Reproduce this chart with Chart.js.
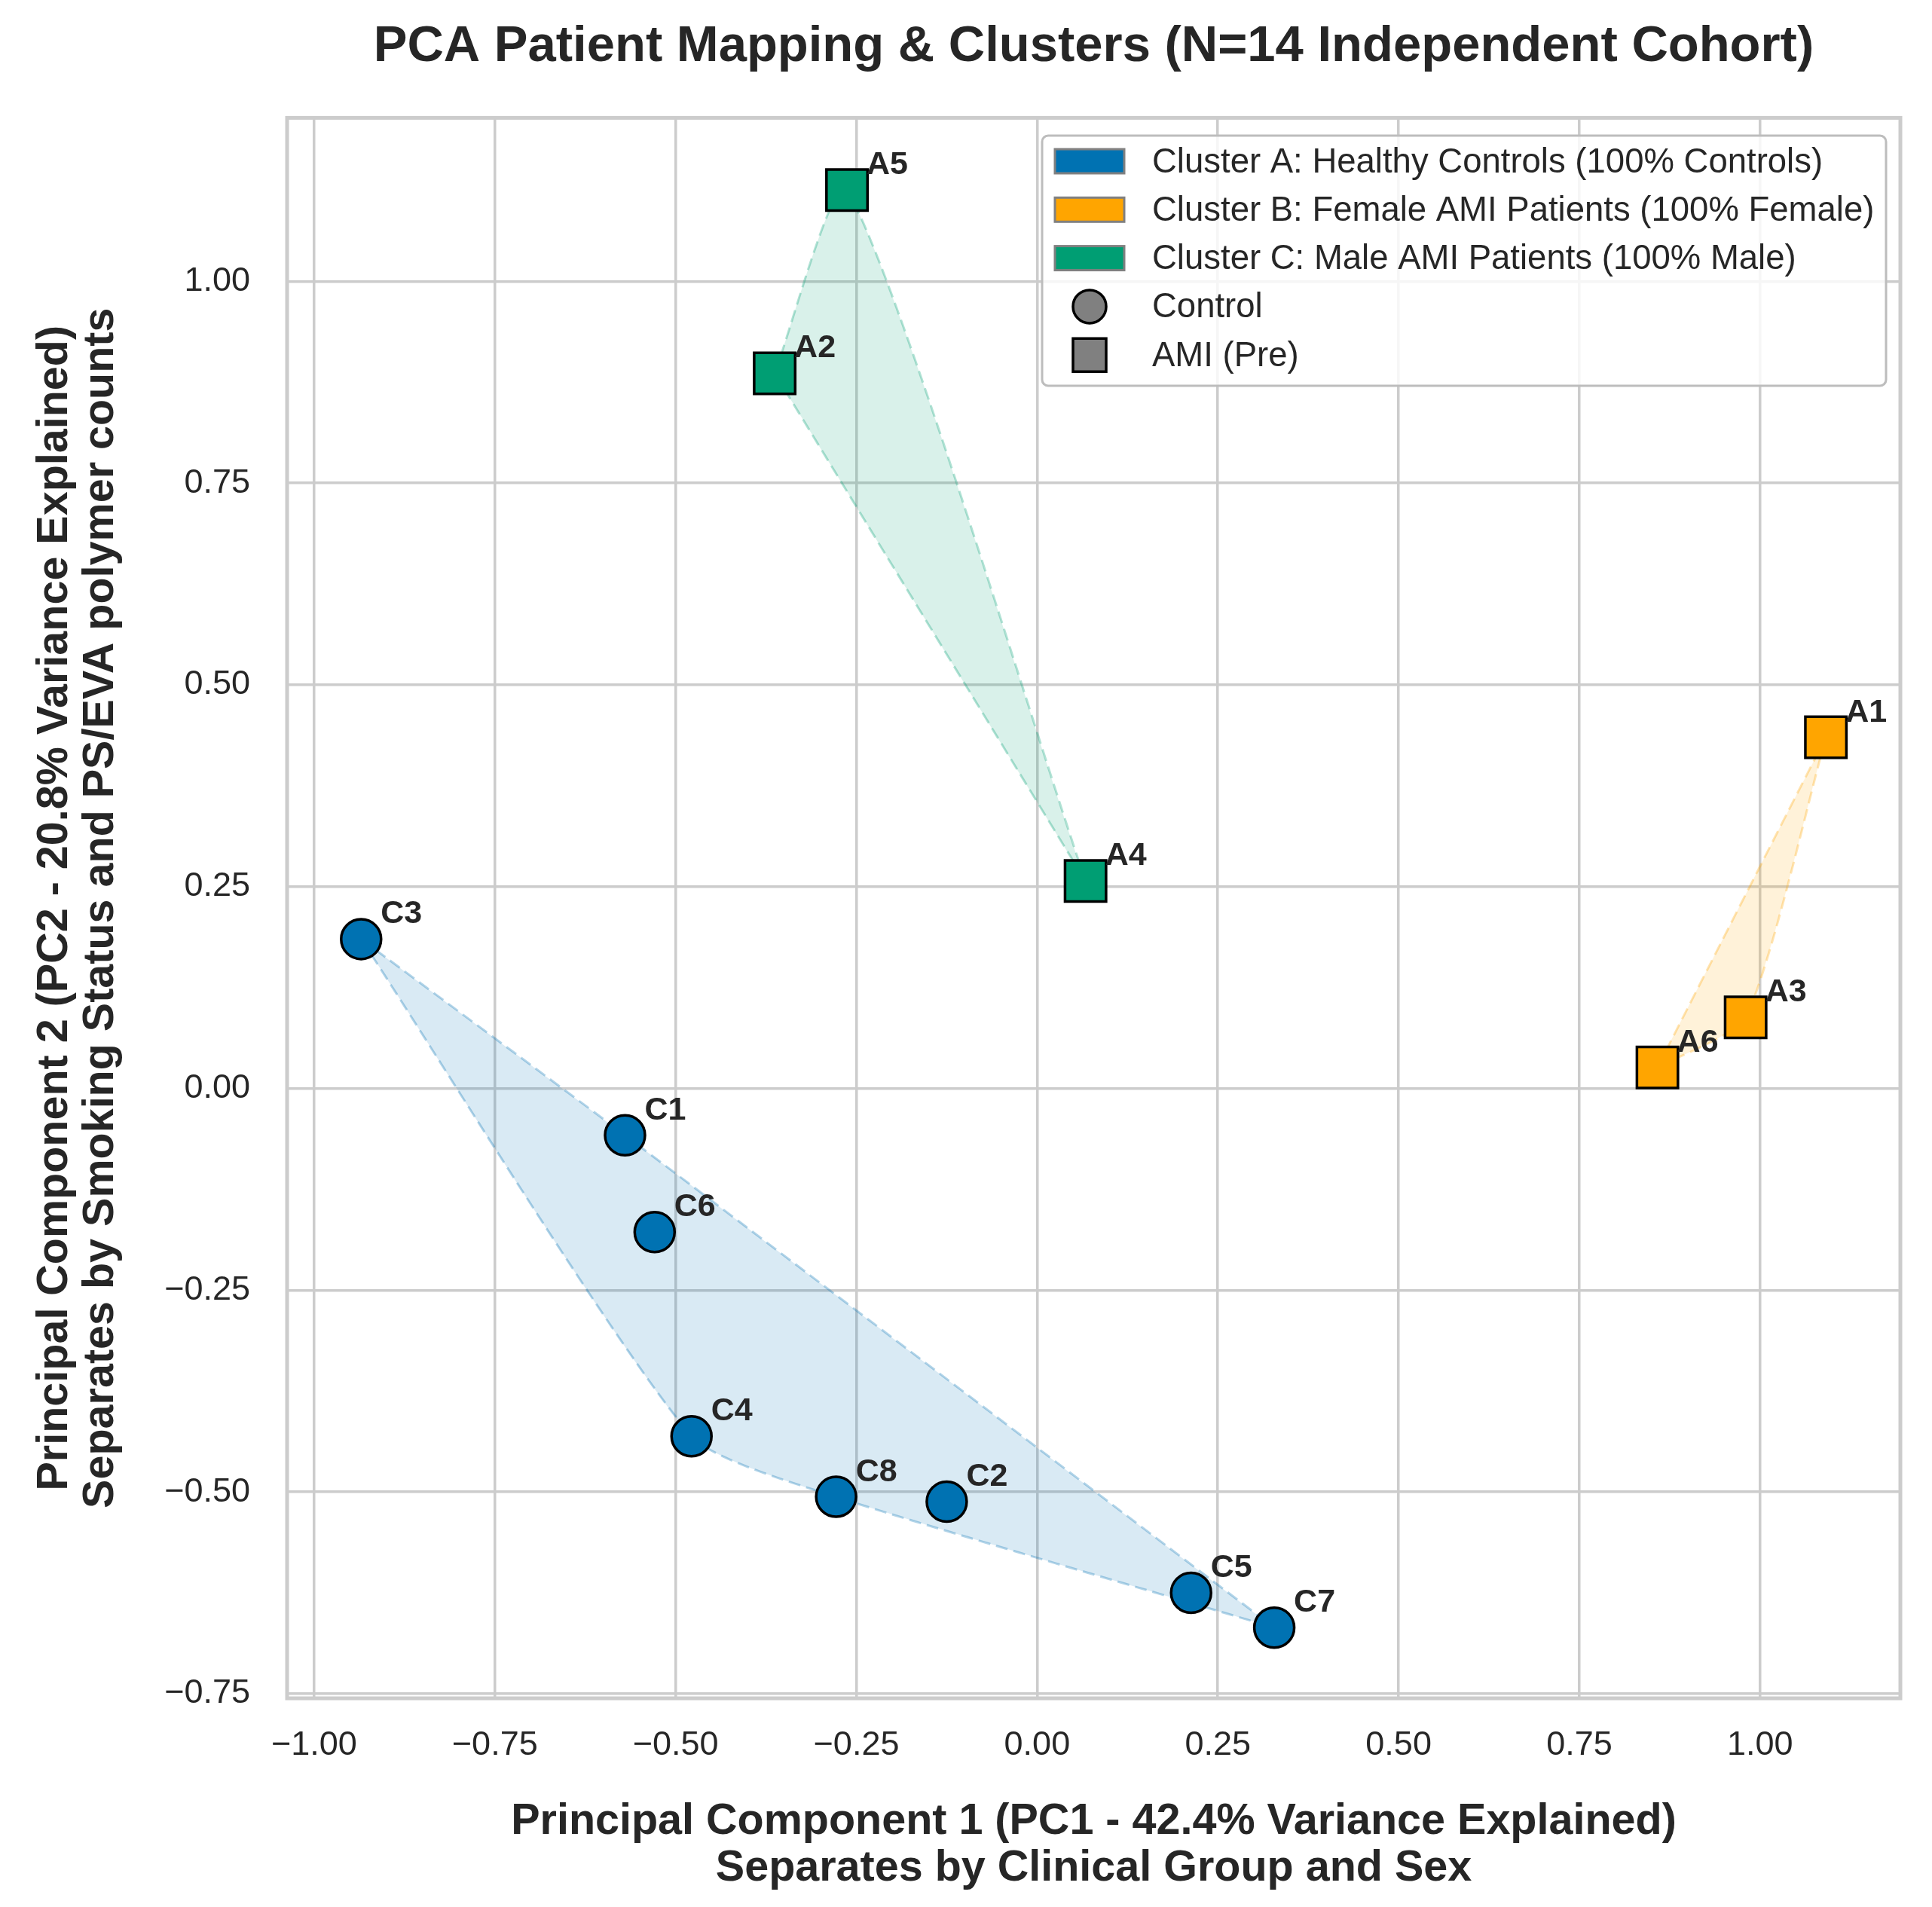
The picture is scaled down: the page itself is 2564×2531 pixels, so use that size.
<!DOCTYPE html>
<html lang="en">
<head>
<meta charset="UTF-8">
<title>PCA Patient Mapping &amp; Clusters</title>
<script src="https://cdn.jsdelivr.net/npm/chart.js"></script>
<style>
  html, body { margin: 0; padding: 0; background: #ffffff; }
  #wrap { width: 2564px; height: 2531px; }
</style>
</head>
<body>
<div id="wrap"><canvas id="pcaChart" width="2564" height="2531"></canvas></div>
<script>
// --- data ---
const patientIds = ['C1', 'C2', 'C3', 'C4', 'C5', 'C6', 'C7', 'C8', 'A1', 'A2', 'A3', 'A4', 'A5', 'A6'];
const pc1Scores = [-0.570, -0.125, -0.935, -0.478, 0.213, -0.529, 0.328, -0.278, 1.091, -0.363, 0.980, 0.067, -0.263, 0.858];
const pc2Scores = [-0.058, -0.512, 0.185, -0.431, -0.625, -0.178, -0.668, -0.506, 0.435, 0.886, 0.088, 0.257, 1.113, 0.026];
const patientCluster = ['A', 'A', 'A', 'A', 'A', 'A', 'A', 'A', 'B', 'C', 'B', 'C', 'C', 'B'];
const patientGroup = ['Control', 'Control', 'Control', 'Control', 'Control', 'Control', 'Control', 'Control',
                      'AMI (Pre)', 'AMI (Pre)', 'AMI (Pre)', 'AMI (Pre)', 'AMI (Pre)', 'AMI (Pre)'];

const clusterKeys = ['A', 'B', 'C'];
const clusterNames = ['Cluster A: Healthy Controls (100% Controls)',
                      'Cluster B: Female AMI Patients (100% Female)',
                      'Cluster C: Male AMI Patients (100% Male)'];
const groupNames = ['Control', 'AMI (Pre)'];

const xTicks = [-1.00, -0.75, -0.50, -0.25, 0.00, 0.25, 0.50, 0.75, 1.00];
const yTicks = [-0.75, -0.50, -0.25, 0.00, 0.25, 0.50, 0.75, 1.00];
const xLimits = [-1.0374, 1.194];
const yLimits = [-0.7556, 1.2025];

// --- styles ---
const clusterColors = ['#0072B2', '#FFA500', '#009E73'];
const groupShapes = ['circle', 'rect'];
const groupRadius = [26.5, 38.5];
const FONT = "'Liberation Sans', Arial, sans-serif";
const TEXT = '#262626';
const GRID = '#cccccc';

function rgba(hex, a) {
    const n = parseInt(hex.slice(1), 16);
    return `rgba(${(n >> 16) & 255}, ${(n >> 8) & 255}, ${n & 255}, ${a})`;
}

function fmt(v) {
    return (v < 0 ? '\u2212' : '') + Math.abs(v).toFixed(2);
}

// convex hull split into lower / upper chains, both running left -> right
function hullChains(pts) {
    const p = pts.slice().sort((a, b) => a.x - b.x || a.y - b.y);
    const cross = (o, a, b) => (a.x - o.x) * (b.y - o.y) - (a.y - o.y) * (b.x - o.x);
    const lower = [], upper = [];
    for (const q of p) {
        while (lower.length >= 2 && cross(lower[lower.length - 2], lower[lower.length - 1], q) <= 0) lower.pop();
        lower.push(q);
    }
    for (const q of p) {
        while (upper.length >= 2 && cross(upper[upper.length - 2], upper[upper.length - 1], q) >= 0) upper.pop();
        upper.push(q);
    }
    return { lower, upper };
}

const points = patientIds.map((id, i) => ({
    x: pc1Scores[i], y: pc2Scores[i], id: id,
    cluster: patientCluster[i], group: patientGroup[i]
}));

const datasets = [];

// hull areas: upper chain, then lower chain filled up to it
clusterKeys.forEach((key, ci) => {
    const pts = points.filter(p => p.cluster === key).map(p => ({ x: p.x, y: p.y }));
    const chains = hullChains(pts);
    const common = {
        type: 'line',
        borderColor: rgba(clusterColors[ci], 0.3),
        backgroundColor: rgba(clusterColors[ci], 0.15),
        borderWidth: 3,
        borderDash: [16, 8],
        pointRadius: 0,
        tension: 0.2,
        order: 2
    };
    datasets.push(Object.assign({ label: 'hull-up-' + key, data: chains.upper, fill: false }, common));
    datasets.push(Object.assign({ label: 'hull-low-' + key, data: chains.lower, fill: '-1' }, common));
});

// markers
clusterKeys.forEach((key, ci) => {
    groupNames.forEach((g, gi) => {
        const pts = points.filter(p => p.cluster === key && p.group === g);
        if (!pts.length) return;
        datasets.push({
            type: 'scatter',
            label: key + ' ' + g,
            data: pts,
            pointStyle: groupShapes[gi],
            pointRadius: groupRadius[gi],
            backgroundColor: clusterColors[ci],
            borderColor: '#000000',
            borderWidth: 3.5,
            isMarker: true,
            order: 1
        });
    });
});

// frame around the plot area
const framePlugin = {
    id: 'frame',
    beforeDatasetsDraw(chart) {
        const { ctx, chartArea: a } = chart;
        ctx.save();
        ctx.strokeStyle = GRID;
        ctx.lineWidth = 5;
        ctx.strokeRect(a.left, a.top, a.right - a.left, a.bottom - a.top);
        ctx.restore();
    }
};

// patient id next to each marker
const labelPlugin = {
    id: 'pointLabels',
    afterDatasetsDraw(chart) {
        const ctx = chart.ctx;
        ctx.save();
        ctx.font = `bold 43px ${FONT}`;
        ctx.fillStyle = TEXT;
        ctx.textAlign = 'left';
        ctx.textBaseline = 'alphabetic';
        chart.data.datasets.forEach((ds, di) => {
            if (!ds.isMarker) return;
            chart.getDatasetMeta(di).data.forEach((el, i) => {
                ctx.fillText(ds.data[i].id, el.x + 26, el.y - 21);
            });
        });
        ctx.restore();
    }
};

// legend box drawn inside the plot, upper right
const legendPlugin = {
    id: 'boxLegend',
    afterDraw(chart) {
        const ctx = chart.ctx;
        const left = 1383, top = 180, w = 1120, h = 332;
        const rowY = (i) => 214 + i * 64.3;
        const symX = 1446, textX = 1529;
        ctx.save();
        ctx.beginPath();
        ctx.roundRect(left, top, w, h, 8);
        ctx.fillStyle = 'rgba(255,255,255,0.82)';
        ctx.fill();
        ctx.strokeStyle = '#bdbdbd';
        ctx.lineWidth = 3;
        ctx.stroke();

        ctx.font = `45.5px ${FONT}`;
        ctx.textBaseline = 'middle';
        ctx.textAlign = 'left';
        clusterNames.forEach((name, i) => {
            const y = rowY(i);
            ctx.fillStyle = clusterColors[i];
            ctx.fillRect(symX - 46, y - 16, 92, 32);
            ctx.strokeStyle = '#808080';
            ctx.lineWidth = 3;
            ctx.strokeRect(symX - 46, y - 16, 92, 32);
            ctx.fillStyle = TEXT;
            ctx.fillText(name, textX, y + 2);
        });
        groupNames.forEach((name, gi) => {
            const y = rowY(clusterNames.length + gi);
            ctx.fillStyle = '#808080';
            ctx.strokeStyle = '#000000';
            ctx.lineWidth = 3.5;
            ctx.beginPath();
            if (groupShapes[gi] === 'circle') {
                ctx.arc(symX, y, 22, 0, Math.PI * 2);
            } else {
                ctx.rect(symX - 22, y - 22, 44, 44);
            }
            ctx.fill();
            ctx.stroke();
            ctx.fillStyle = TEXT;
            ctx.fillText(name, textX, y + 2);
        });
        ctx.restore();
    }
};

const ctx = document.getElementById('pcaChart').getContext('2d');
const pcaChart = new Chart(ctx, {
    type: 'scatter',
    data: { datasets: datasets },
    plugins: [framePlugin, labelPlugin, legendPlugin],
    options: {
        responsive: false,
        animation: false,
        devicePixelRatio: 1,
        layout: { padding: { left: 0, right: 36, top: 0, bottom: 0 } },
        plugins: {
            legend: { display: false },
            tooltip: { enabled: false },
            title: {
                display: true,
                fullSize: false,
                text: 'PCA Patient Mapping & Clusters (N=14 Independent Cohort)',
                color: TEXT,
                font: { family: FONT, size: 67, weight: 'bold', lineHeight: 1.2 },
                padding: { top: 22, bottom: 54 }
            }
        },
        scales: {
            x: {
                type: 'linear',
                min: xLimits[0],
                max: xLimits[1],
                afterBuildTicks: s => { s.ticks = xTicks.map(v => ({ value: v })); },
                afterFit: s => { s.height = 277; },
                ticks: {
                    callback: v => fmt(v),
                    color: TEXT,
                    font: { family: FONT, size: 45 },
                    padding: 36,
                    maxRotation: 0
                },
                grid: { color: GRID, lineWidth: 3.5, drawTicks: false },
                border: { display: false },
                title: {
                    display: true,
                    text: ['Principal Component 1 (PC1 - 42.4% Variance Explained)',
                           'Separates by Clinical Group and Sex'],
                    color: TEXT,
                    font: { family: FONT, size: 57.5, weight: 'bold', lineHeight: 1.08 },
                    padding: { top: 0, bottom: 20 }
                }
            },
            y: {
                type: 'linear',
                min: yLimits[0],
                max: yLimits[1],
                afterBuildTicks: s => { s.ticks = yTicks.map(v => ({ value: v })); },
                afterFit: s => { s.width = 381; },
                ticks: {
                    callback: v => fmt(v),
                    color: TEXT,
                    font: { family: FONT, size: 45 },
                    padding: 49
                },
                grid: { color: GRID, lineWidth: 3.5, drawTicks: false },
                border: { display: false },
                title: {
                    display: true,
                    text: ['Principal Component 2 (PC2 - 20.8% Variance Explained)',
                           'Separates by Smoking Status and PS/EVA polymer counts'],
                    color: TEXT,
                    font: { family: FONT, size: 57.5, weight: 'bold', lineHeight: 1.06 },
                    padding: { top: 43, bottom: 0 }
                }
            }
        }
    }
});
</script>
</body>
</html>
